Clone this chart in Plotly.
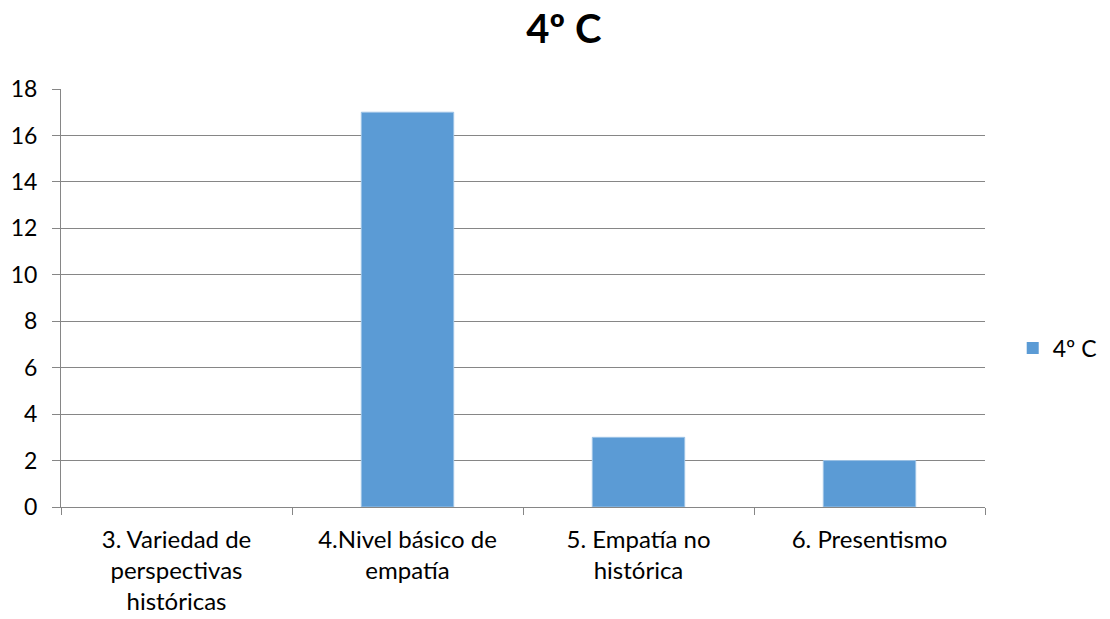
import plotly.graph_objects as go

categories = [
    "3. Variedad de<br>perspectivas<br>históricas",
    "4.Nivel básico de<br>empatía",
    "5. Empatía no<br>histórica",
    "6. Presentismo",
]
values = [0, 17, 3, 2]
series_name = "4º C"
y_ticks = list(range(0, 19, 2))

FONT = "Lato"
GRID = "#868686"

# no outline on empty bars so a zero value leaves no visible mark
outline_widths = [1 if v > 0 else 0 for v in values]

fig = go.Figure(
    go.Bar(
        x=categories,
        y=values,
        name=series_name,
        width=0.4,
        marker=dict(color="#5B9BD5", line=dict(color="#9DC3E6", width=outline_widths)),
        showlegend=True,
    )
)

fig.update_layout(
    width=1110,
    height=619,
    margin=dict(l=61, r=125, t=89, b=112, autoexpand=False),
    paper_bgcolor="white",
    plot_bgcolor="white",
    font=dict(family=FONT, size=24, color="black"),
    title=dict(
        text="<b>4º C</b>",
        x=0.508,
        xanchor="center",
        y=0.953,
        yanchor="middle",
        font=dict(family=FONT, size=40, color="black"),
    ),
    legend=dict(
        x=1.03,
        xanchor="left",
        y=0.38,
        yanchor="middle",
        font=dict(family=FONT, size=23),
        bgcolor="rgba(0,0,0,0)",
    ),
    bargap=0.6,
)

fig.update_xaxes(
    showline=True,
    linecolor=GRID,
    linewidth=1,
    ticks="outside",
    tickson="boundaries",
    ticklen=7,
    tickcolor=GRID,
    showgrid=False,
    ticklabelstandoff=11,
    tickfont=dict(family=FONT, size=24),
)

fig.update_yaxes(
    range=[0, 18],
    tickvals=y_ticks,
    showline=True,
    linecolor=GRID,
    linewidth=1,
    ticks="outside",
    ticklen=8,
    tickcolor=GRID,
    showgrid=True,
    gridcolor=GRID,
    gridwidth=1,
    zeroline=False,
    ticklabelstandoff=10,
    tickfont=dict(family=FONT, size=23),
)

fig.write_html("out.html")
